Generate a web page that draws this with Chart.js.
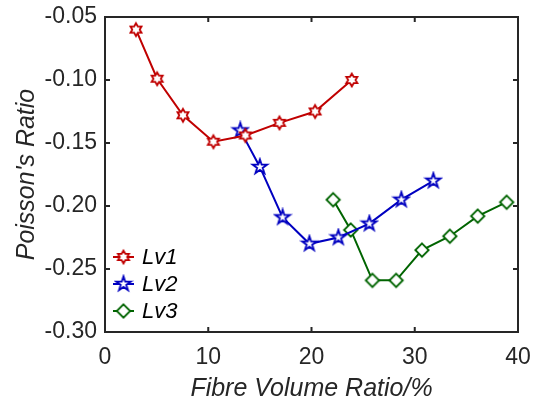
<!DOCTYPE html>
<html>
<head>
<meta charset="utf-8">
<script src="https://cdn.jsdelivr.net/npm/chart.js@4"></script>
<style>
  html, body { margin: 0; padding: 0; background: #fff; }
  #wrap { width: 533px; height: 406px; }
</style>
</head>
<body>
<div id="wrap"><canvas id="poissonChart" width="533" height="406"></canvas></div>
<script>
// data
const seriesNames = ['Lv1', 'Lv2', 'Lv3'];
const xLv1 = [3.0, 5.05, 7.55, 10.5, 13.6, 16.9, 20.35, 23.9];
const yLv1 = [-0.060, -0.099, -0.128, -0.149, -0.144, -0.134, -0.125, -0.100];
const xLv2 = [13.1, 15.0, 17.2, 19.8, 22.6, 25.6, 28.7, 31.8];
const yLv2 = [-0.140, -0.169, -0.209, -0.230, -0.225, -0.214, -0.195, -0.180];
const xLv3 = [22.1, 23.8, 25.9, 28.2, 30.7, 33.4, 36.1, 38.9];
const yLv3 = [-0.195, -0.219, -0.259, -0.259, -0.235, -0.224, -0.208, -0.197];
const xTicks = [0, 10, 20, 30, 40];
const yTicks = [-0.30, -0.25, -0.20, -0.15, -0.10, -0.05];

const RED = '#c00000';
const BLUE = '#0000c0';
const GREEN = '#006400';
const AXIS = '#262626';

// build a marker image (white fill, coloured outline)
function makeMarker(kind, color) {
    const size = 20;
    const c = document.createElement('canvas');
    c.width = size;
    c.height = size;
    const g = c.getContext('2d');
    const cx = size / 2, cy = size / 2;
    const pts = [];
    if (kind === 'hexagram') {
        const R = 6.4, r = R / Math.sqrt(3);
        for (let i = 0; i < 12; i++) {
            const a = -Math.PI / 2 + i * Math.PI / 6;
            const rad = i % 2 === 0 ? R : r;
            pts.push([cx + rad * Math.cos(a), cy + rad * Math.sin(a)]);
        }
    } else if (kind === 'pentagram') {
        const R = 7.6, r = R * 0.382;
        for (let i = 0; i < 10; i++) {
            const a = -Math.PI / 2 + i * Math.PI / 5;
            const rad = i % 2 === 0 ? R : r;
            pts.push([cx + rad * Math.cos(a), cy + rad * Math.sin(a)]);
        }
    } else {
        const R = 6.7;
        pts.push([cx, cy - R], [cx + R, cy], [cx, cy + R], [cx - R, cy]);
    }
    g.beginPath();
    pts.forEach((p, i) => i === 0 ? g.moveTo(p[0], p[1]) : g.lineTo(p[0], p[1]));
    g.closePath();
    g.fillStyle = '#fff';
    g.fill();
    g.lineWidth = 1.8;
    g.lineJoin = 'miter';
    g.strokeStyle = color;
    g.stroke();
    return c;
}

const markers = [
    makeMarker('hexagram', RED),
    makeMarker('pentagram', BLUE),
    makeMarker('diamond', GREEN)
];

function toPoints(xs, ys) {
    return xs.map((x, i) => ({ x: x, y: ys[i] }));
}

// box, inward ticks and the legend in the lower left corner
const matlabAxes = {
    id: 'matlabAxes',
    afterDraw(chart) {
        const ctx = chart.ctx;
        const a = chart.chartArea;
        const xs = chart.scales.x, ys = chart.scales.y;
        const tl = 5;
        ctx.save();
        ctx.strokeStyle = AXIS;
        ctx.lineWidth = 2;
        ctx.beginPath();
        xTicks.forEach(v => {
            const px = xs.getPixelForValue(v);
            ctx.moveTo(px, a.bottom); ctx.lineTo(px, a.bottom - tl);
            ctx.moveTo(px, a.top); ctx.lineTo(px, a.top + tl);
        });
        yTicks.forEach(v => {
            const py = ys.getPixelForValue(v);
            ctx.moveTo(a.left, py); ctx.lineTo(a.left + tl, py);
            ctx.moveTo(a.right, py); ctx.lineTo(a.right - tl, py);
        });
        ctx.stroke();
        ctx.strokeRect(a.left, a.top, a.right - a.left, a.bottom - a.top);

        // legend
        const colors = [RED, BLUE, GREEN];
        const rowY = [257, 284, 311];
        ctx.font = 'italic 22px "Liberation Sans", Arial, sans-serif';
        ctx.textBaseline = 'middle';
        ctx.textAlign = 'left';
        seriesNames.forEach((name, i) => {
            const y = rowY[i];
            ctx.strokeStyle = colors[i];
            ctx.lineWidth = 2;
            ctx.beginPath();
            ctx.moveTo(113, y);
            ctx.lineTo(134, y);
            ctx.stroke();
            ctx.drawImage(markers[i], 123.5 - 10, y - 10);
            ctx.fillStyle = '#000';
            ctx.fillText(name, 142, y + 1);
        });
        ctx.restore();
    }
};

const tickFont = { family: '"Liberation Sans", Arial, sans-serif', size: 23 };
const titleFont = { family: '"Liberation Sans", Arial, sans-serif', size: 25, style: 'italic' };

new Chart(document.getElementById('poissonChart').getContext('2d'), {
    type: 'scatter',
    data: {
        datasets: [
            { label: seriesNames[0], data: toPoints(xLv1, yLv1), borderColor: RED, backgroundColor: RED, pointStyle: markers[0] },
            { label: seriesNames[1], data: toPoints(xLv2, yLv2), borderColor: BLUE, backgroundColor: BLUE, pointStyle: markers[1] },
            { label: seriesNames[2], data: toPoints(xLv3, yLv3), borderColor: GREEN, backgroundColor: GREEN, pointStyle: markers[2] }
        ].map(ds => Object.assign(ds, { showLine: true, borderWidth: 2, tension: 0 }))
    },
    options: {
        responsive: false,
        animation: false,
        devicePixelRatio: 1,
        layout: { autoPadding: false, padding: { top: 17, right: 15, left: 0, bottom: 0 } },
        plugins: {
            legend: { display: false },
            tooltip: { enabled: false }
        },
        scales: {
            x: {
                type: 'linear',
                min: 0,
                max: 40,
                grid: { display: false, drawTicks: false },
                border: { display: false },
                ticks: { stepSize: 10, font: tickFont, color: AXIS, padding: 12 },
                title: { display: true, text: 'Fibre Volume Ratio/%', font: titleFont, color: AXIS, padding: { top: 0, bottom: 2 } },
                afterFit: s => { s.height = 74; s.paddingLeft = 0; s.paddingRight = 0; }
            },
            y: {
                type: 'linear',
                min: -0.30,
                max: -0.05,
                grid: { display: false, drawTicks: false },
                border: { display: false },
                ticks: { stepSize: 0.05, font: tickFont, color: AXIS, padding: 8, callback: v => v.toFixed(2) },
                title: { display: true, text: "Poisson's Ratio", font: titleFont, color: AXIS, padding: { top: 12, bottom: 0 } },
                afterFit: s => { s.width = 105; s.paddingTop = 0; s.paddingBottom = 0; }
            }
        }
    },
    plugins: [matlabAxes]
});
</script>
</body>
</html>
